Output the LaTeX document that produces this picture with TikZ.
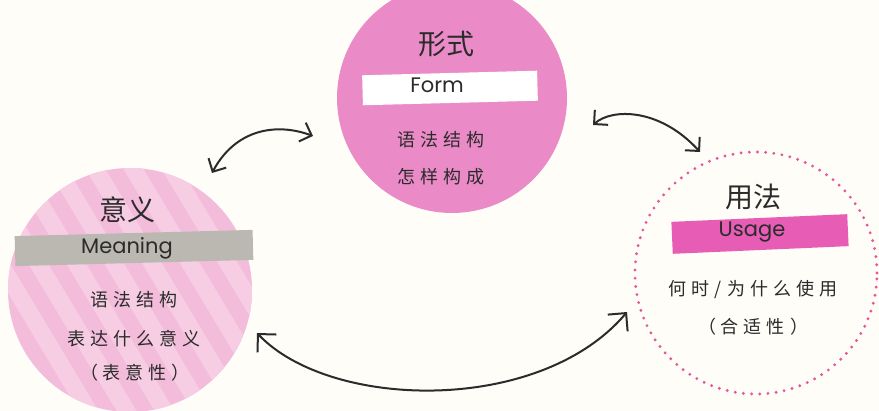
\documentclass[tikz,border=0pt]{standalone}
\usepackage{fontspec}
\newfontfamily\cjk{Noto Sans CJK SC}
\newfontfamily\latlabel{Poppins}
\usetikzlibrary{arrows.meta}
\definecolor{bg}{HTML}{FEFDF8}
\definecolor{meaningpink}{HTML}{F3BCDA}
\definecolor{meaningstripe}{HTML}{F7CDE4}
\definecolor{formpink}{HTML}{EA8BC7}
\definecolor{dotpink}{HTML}{E6559F}
\definecolor{usagebar}{HTML}{E75DB6}
\definecolor{graybar}{HTML}{BAB8B1}
\definecolor{ink}{HTML}{2B2B2B}
\newcommand\cjkgap{\hspace{5pt}}
\tikzset{
  titletext/.style={font=\cjk\fontsize{28}{30}\selectfont, text=ink, inner sep=0pt},
  labeltext/.style={font=\latlabel\fontsize{21}{23}\selectfont, text=ink, inner sep=0pt},
  bodytext/.style={font=\cjk\fontsize{18}{20}\selectfont, text=ink, inner sep=0pt},
  bandbox/.style={rectangle, inner sep=0pt},
  biarrow/.style={line width=2pt, draw=ink, line cap=round,
    {Straight Barb[length=10pt,width=20pt,line width=2pt]}-{Straight Barb[length=10pt,width=20pt,line width=2pt]}},
  bigarrow/.style={line width=2pt, draw=ink, line cap=round,
    {Straight Barb[length=13pt,width=26pt,line width=2pt]}-{Straight Barb[length=13pt,width=26pt,line width=2pt]}}
}
\begin{document}
\begin{tikzpicture}[x=1pt,y=-1pt]
\useasboundingbox (0,0) rectangle (879,411);
\fill[bg] (0,0) rectangle (879,411);

% Meaning circle (striped)
\node[circle, minimum size=244pt, inner sep=0pt, fill=meaningpink,
  path picture={
    \foreach \k in {-9,...,9}
      \draw[line width=17pt, meaningstripe]
        ([xshift=\k*38pt-120pt, yshift=200pt]path picture bounding box.center) -- ++(240pt,-400pt);
  }] (M) at (130,290) {};

% Form circle
\node[circle, minimum size=230pt, inner sep=0pt, fill=formpink] (F) at (452,98) {};

% Usage circle (dotted)
\node[circle, minimum size=242pt, inner sep=0pt, draw=dotpink, line width=3.2pt,
  dash pattern=on 0pt off 8.2pt, line cap=round] (U) at (756,273) {};

% bands
\node[bandbox, fill=graybar, minimum width=238pt, minimum height=30pt, rotate=1.5] (mband) at (134,248) {};
\node[bandbox, fill=white, minimum width=175pt, minimum height=30pt, rotate=1.5] (fband) at (450,88) {};
\node[bandbox, fill=usagebar, minimum width=176pt, minimum height=32pt, rotate=2.5] (uband) at (760,234) {};

% Meaning texts
\node[titletext] (mtitle) at (127,210) {意义};
\node[labeltext] (mlabel) at (127,248) {Meaning};
\node[bodytext] (m1) at (134,300) {语\cjkgap 法\cjkgap 结\cjkgap 构};
\node[bodytext] (m2) at (134,339) {表\cjkgap 达\cjkgap 什\cjkgap 么\cjkgap 意\cjkgap 义};
\node[bodytext] (m3) at (135,373) {（\cjkgap 表\cjkgap 意\cjkgap 性\cjkgap ）};

% Form texts
\node[titletext] (ftitle) at (446,44) {形式};
\node[labeltext] (flabel) at (437,85) {Form};
\node[bodytext] (f1) at (441,140) {语\cjkgap 法\cjkgap 结\cjkgap 构};
\node[bodytext] (f2) at (441,177) {怎\cjkgap 样\cjkgap 构\cjkgap 成};

% Usage texts
\node[titletext] (utitle) at (753,197) {用法};
\node[labeltext] (ulabel) at (752,232) {Usage};
\node[bodytext] (u1) at (753,290) {何\cjkgap 时\cjkgap /\cjkgap 为\cjkgap 什\cjkgap 么\cjkgap 使\cjkgap 用};
\node[bodytext] (u2) at (753,327) {（\cjkgap 合\cjkgap 适\cjkgap 性\cjkgap ）};

% arrow end points
\coordinate (a1s) at (212,173);
\coordinate (a1e) at (313,136);
\coordinate (a2s) at (593,125);
\coordinate (a2e) at (700,152);
\coordinate (a3s) at (257,333);
\coordinate (a3e) at (627,312);

\draw[biarrow] (a1s) .. controls (235,130) and (275,122) .. (a1e);
\draw[biarrow] (a2s) .. controls (612,108) and (660,108) .. (a2e);
\draw[bigarrow] (a3s) .. controls (330,410) and (540,415) .. (a3e);
\end{tikzpicture}
\end{document}
